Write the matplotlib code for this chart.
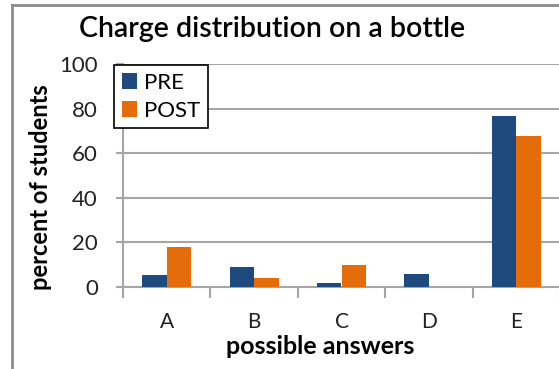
import matplotlib.pyplot as plt
from matplotlib.lines import Line2D
import numpy as np

plt.rcParams['font.family'] = ['Lato', 'DejaVu Sans']

answers = ["A", "B", "C", "D", "E"]
pre = [5.5, 9, 2, 6, 76.5]
post = [18, 4, 10, 0, 67.5]
y_ticks = [0, 20, 40, 60, 80, 100]

blue = "#1f4a7e"
orange = "#e46c0a"
grid_grey = "#a6a6a6"

W, H = 559, 369
fig = plt.figure(figsize=(W / 100, H / 100), dpi=100)
ax = fig.add_axes([123 / W, 1 - 287 / H, 437 / W, 223 / H])

x = np.arange(len(answers))
w = 0.28
ax.bar(x - w / 2, pre, w, color=blue, label="PRE", zorder=3)
ax.bar(x + w / 2, post, w, color=orange, label="POST", zorder=3)

ax.set_xlim(-0.5, len(answers) - 0.5)
ax.set_ylim(0, 100)
ax.set_yticks(y_ticks)
ax.set_yticklabels([str(t) for t in y_ticks], fontsize=16, color="#222222")
ax.yaxis.grid(True, color=grid_grey, linewidth=1.5, zorder=0)

# categories in the middle, tick marks on the boundaries
ax.set_xticks(x)
ax.set_xticklabels(answers, fontsize=15, color="#222222")
ax.tick_params(axis="x", which="major", length=0, pad=18)
ax.set_xticks(np.arange(-0.5, len(answers) + 0.5, 1), minor=True)
ax.tick_params(axis="x", which="minor", length=8, width=1.5, color=grid_grey)
ax.tick_params(axis="y", length=5, width=1.5, color=grid_grey, pad=13)

for side in ("top", "right"):
    ax.spines[side].set_visible(False)
for side in ("left", "bottom"):
    ax.spines[side].set_color(grid_grey)
    ax.spines[side].set_linewidth(1.5)

fig.text(320 / W, 1 - 347 / H, "possible answers", fontsize=18,
         fontweight="bold", ha="center", va="center")
fig.text(41 / W, 1 - 187 / H, "percent of students", fontsize=17,
         fontweight="bold", ha="center", va="center", rotation=90)
fig.text(272 / W, 1 - 29 / H, "Charge distribution on a bottle",
         fontsize=20.5, fontweight="semibold", ha="center", va="center")

leg = ax.legend(loc="upper left", bbox_to_anchor=(114 / W, 1 - 65 / H),
                bbox_transform=fig.transFigure, borderaxespad=0,
                fancybox=False, framealpha=1, edgecolor="black",
                fontsize=16, handlelength=0.7, handleheight=0.7,
                handletextpad=0.3, labelspacing=0.35, borderpad=0.35)
leg.get_frame().set_linewidth(1.2)
leg.set_zorder(5)

# chart border
fx, fy = 12 / W, 1 - 5 / H
fig.add_artist(Line2D([fx, fx], [0, fy], transform=fig.transFigure,
                      color="#8c8c8c", linewidth=2))
fig.add_artist(Line2D([fx, 1], [fy, fy], transform=fig.transFigure,
                      color="#8c8c8c", linewidth=2))

fig.savefig("out.png", dpi=100)
